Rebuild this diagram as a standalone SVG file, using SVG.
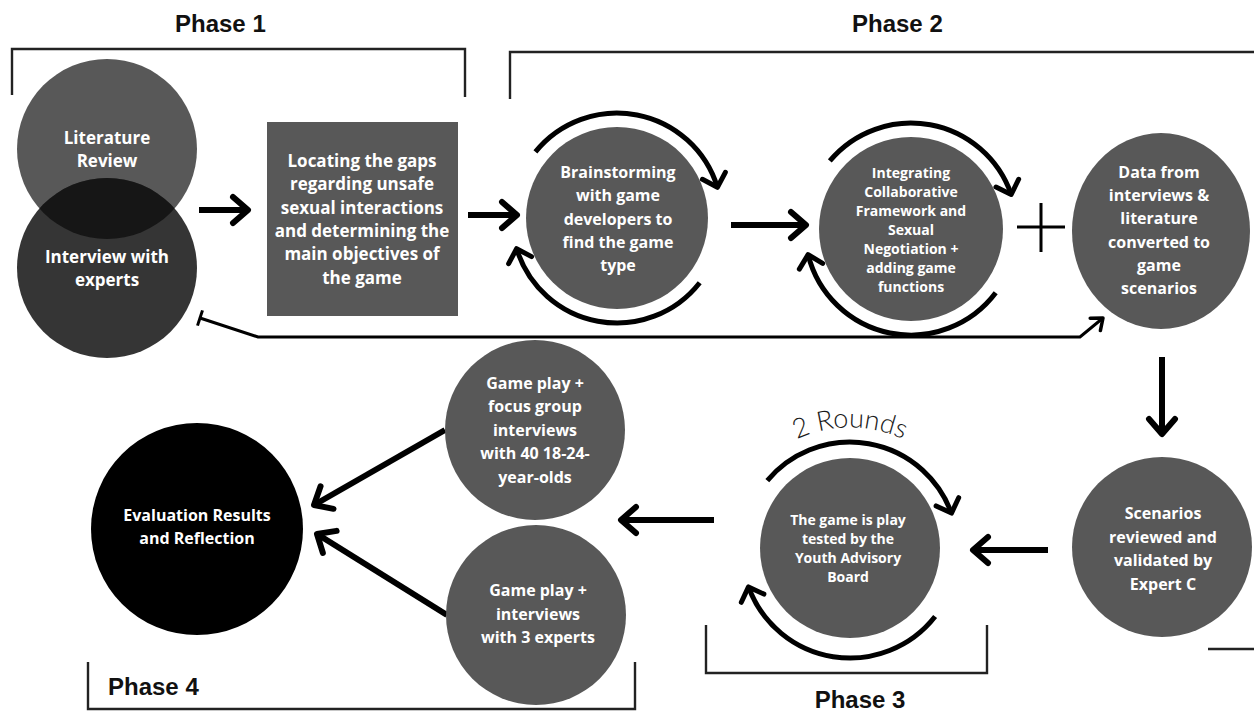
<svg xmlns="http://www.w3.org/2000/svg" width="1254" height="715" viewBox="0 0 1254 715">
  <style>
    .node { fill: #585858; }
    .lbl { font-family: "Open Sans", "Liberation Sans", sans-serif; font-weight: 700; fill: #ffffff; text-anchor: middle; }
    .lbl16 { font-size: 16px; }
    .lbl17 { font-size: 17px; }
    .lbl14 { font-size: 14px; }
    .phase { font-family: "Liberation Sans", "Roboto", sans-serif; font-weight: 700; font-size: 24px; fill: #111; }
    .bracket { fill: none; stroke: #222; stroke-width: 2.4; }
    .flow { fill: none; stroke: #000; stroke-width: 6; marker-end: url(#head); }
    .loop { fill: none; stroke: #000; stroke-width: 5; marker-end: url(#loophead); }
    .thin { fill: none; stroke: #000; stroke-width: 3; }
  </style>
  <defs>
    <marker id="head" viewBox="-24 -18 30 36" markerWidth="30" markerHeight="36" refX="0" refY="0" orient="auto" markerUnits="userSpaceOnUse" overflow="visible">
      <path d="M-15,-13 L0,0 L-15,13" fill="none" stroke="#000" stroke-width="6" stroke-linecap="round" stroke-linejoin="round"/>
    </marker>
    <marker id="loophead" viewBox="-24 -18 30 36" markerWidth="30" markerHeight="36" refX="0" refY="0" orient="auto" markerUnits="userSpaceOnUse" overflow="visible">
      <path d="M-12,-12 L0,0 L-12,12" fill="none" stroke="#000" stroke-width="5" stroke-linecap="round" stroke-linejoin="round"/>
    </marker>
    <marker id="smallhead" viewBox="-16 -12 20 24" markerWidth="20" markerHeight="24" refX="0" refY="0" orient="auto" markerUnits="userSpaceOnUse" overflow="visible">
      <path d="M-10,-8 L0,0 L-10,8" fill="none" stroke="#000" stroke-width="3.5" stroke-linecap="round" stroke-linejoin="round"/>
    </marker>
    <clipPath id="litClip">
      <circle cx="107" cy="149" r="90"/>
    </clipPath>
    <path id="roundsArc" d="M 737,499 A 125,125 0 0 1 963,499"/>
  </defs>

  <rect width="1254" height="715" fill="#ffffff"/>

  <!-- phase brackets and titles -->
  <g id="phases">
    <text class="phase" x="175" y="32">Phase 1</text>
    <path class="bracket" d="M12,95 V49 H465 V97"/>
    <text class="phase" x="852" y="32">Phase 2</text>
    <path class="bracket" d="M510,99 V52 H1254"/>
    <path class="bracket" d="M706,625 V673 H987 V625"/>
    <text class="phase" x="860" y="708" text-anchor="middle">Phase 3</text>
    <path class="bracket" d="M88,662 V709 H635 V662"/>
    <text class="phase" x="108" y="695">Phase 4</text>
    <path class="bracket" d="M1208,649 H1254"/>
  </g>

  <!-- connectors -->
  <g id="connectors">
    <path class="flow" d="M199,210 H248"/>
    <path class="flow" d="M468,215 H517"/>
    <path class="flow" d="M731,225 H806"/>
    <path class="flow" d="M1162,357 V434"/>
    <path class="flow" d="M1048,550 H973"/>
    <path class="flow" d="M714,520 H621"/>
    <path class="flow" d="M445,430 L314,505"/>
    <path class="flow" d="M447,615 L317,534"/>
    <!-- feedback from scenarios back to the research step -->
    <path class="thin" d="M200,318 L258,337 H1080 L1103,318" marker-end="url(#smallhead)"/>
    <path class="thin" d="M202.5,310.4 L197.5,325.6"/>
    <!-- plus sign joining the two phase 2 inputs -->
    <path class="thin" d="M1041,203 V252 M1017,227 H1065"/>
  </g>

  <!-- phase 1 -->
  <g id="literature-review">
    <circle cx="107" cy="149" r="90" fill="#585858"/>
  </g>
  <g id="interview-experts">
    <circle cx="107" cy="268" r="90" fill="#353535"/>
    <circle cx="107" cy="268" r="90" fill="#161616" clip-path="url(#litClip)"/>
  </g>
  <g id="literature-review-label">
    <text class="lbl" font-size="17" x="107" y="144">Literature<tspan x="107" dy="23">Review</tspan></text>
  </g>
  <g id="interview-experts-label">
    <text class="lbl" font-size="17" x="107" y="263">Interview with<tspan x="107" dy="23">experts</tspan></text>
  </g>

  <g id="locating-gaps">
    <rect class="node" x="267" y="122" width="191" height="194"/>
    <text class="lbl lbl17" x="362" y="167">Locating the gaps<tspan x="362" dy="23.3">regarding unsafe</tspan><tspan x="362" dy="23.3">sexual interactions</tspan><tspan x="362" dy="23.3">and determining the</tspan><tspan x="362" dy="23.3">main objectives of</tspan><tspan x="362" dy="23.3">the game</tspan></text>
  </g>

  <!-- phase 2 -->
  <g id="brainstorming">
    <circle class="node" cx="617" cy="218" r="91"/>
    <path class="loop" d="M535.4,151.9 A105,105 0 0 1 717.4,187.3"/>
    <path class="loop" d="M699.7,282.7 A105,105 0 0 1 516.6,248.7"/>
    <text class="lbl lbl16" x="618" y="178">Brainstorming<tspan x="618" dy="23.3">with game</tspan><tspan x="618" dy="23.3">developers to</tspan><tspan x="618" dy="23.3">find the game</tspan><tspan x="618" dy="23.3">type</tspan></text>
  </g>

  <g id="integrating">
    <circle class="node" cx="911" cy="229" r="92"/>
    <path class="loop" d="M829.8,160.9 A106,106 0 0 1 1011.2,194.5"/>
    <path class="loop" d="M995.7,292.8 A106,106 0 0 1 808.1,254.6"/>
    <text class="lbl lbl14" x="911" y="178">Integrating<tspan x="911" dy="19">Collaborative</tspan><tspan x="911" dy="19">Framework and</tspan><tspan x="911" dy="19">Sexual</tspan><tspan x="911" dy="19">Negotiation +</tspan><tspan x="911" dy="19">adding game</tspan><tspan x="911" dy="19">functions</tspan></text>
  </g>

  <g id="data-scenarios">
    <ellipse class="node" cx="1161" cy="231" rx="89" ry="98"/>
    <text class="lbl lbl16" x="1159" y="178">Data from<tspan x="1159" dy="23.2">interviews &amp;</tspan><tspan x="1159" dy="23.2">literature</tspan><tspan x="1159" dy="23.2">converted to</tspan><tspan x="1159" dy="23.2">game</tspan><tspan x="1159" dy="23.2">scenarios</tspan></text>
  </g>

  <!-- phase 3 -->
  <g id="scenarios-reviewed">
    <circle class="node" cx="1162" cy="547" r="90"/>
    <text class="lbl lbl16" x="1163" y="519">Scenarios<tspan x="1163" dy="23.5">reviewed and</tspan><tspan x="1163" dy="23.5">validated by</tspan><tspan x="1163" dy="23.5">Expert C</tspan></text>
  </g>

  <g id="play-test">
    <circle class="node" cx="850" cy="548" r="90"/>
    <path class="loop" d="M767.3,480.6 A108,108 0 0 1 951.5,513.1"/>
    <path class="loop" d="M935.1,616.5 A108,108 0 0 1 748.5,586.9"/>
    <text class="lbl lbl14" x="848" y="525">The game is play<tspan x="848" dy="19">tested by the</tspan><tspan x="848" dy="19">Youth Advisory</tspan><tspan x="848" dy="19">Board</tspan></text>
    <text font-family="Lato, 'Open Sans', sans-serif" font-weight="300" font-size="27" fill="#1a1a1a"><textPath href="#roundsArc" startOffset="50%" text-anchor="middle">2 Rounds</textPath></text>
  </g>

  <!-- phase 4 -->
  <g id="focus-groups">
    <circle class="node" cx="535" cy="430" r="90"/>
    <text class="lbl lbl16" x="535" y="389">Game play +<tspan x="535" dy="23.4">focus group</tspan><tspan x="535" dy="23.4">interviews</tspan><tspan x="535" dy="23.4">with 40 18-24-</tspan><tspan x="535" dy="23.4">year-olds</tspan></text>
  </g>

  <g id="expert-interviews">
    <circle class="node" cx="536" cy="615" r="90"/>
    <text class="lbl lbl16" x="538" y="596">Game play +<tspan x="538" dy="23.5">interviews</tspan><tspan x="538" dy="23.5">with 3 experts</tspan></text>
  </g>

  <g id="evaluation">
    <circle cx="197" cy="529" r="106" fill="#000"/>
    <text class="lbl lbl16" x="197" y="521">Evaluation Results<tspan x="197" dy="22.5">and Reflection</tspan></text>
  </g>
</svg>
